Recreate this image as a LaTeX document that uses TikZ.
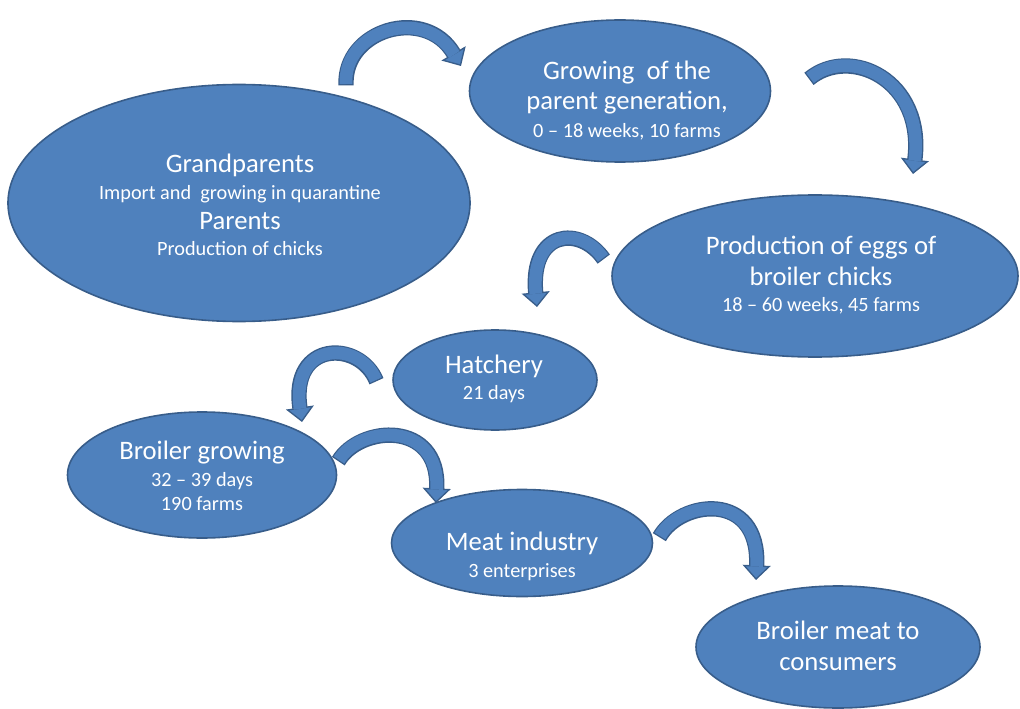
\documentclass[tikz,border=0pt]{standalone}
\usepackage{fontspec}
\setmainfont{Carlito}
\usetikzlibrary{shapes.geometric,arrows.meta}
\definecolor{bfill}{HTML}{4F81BD}
\definecolor{bline}{HTML}{385D8A}
\newcommand{\bentarrow}[4]{%
  \draw[bline, line width=11.5pt, shorten <=-1pt,
        -{Triangle[length=11pt,width=21pt,fill=bfill,line width=1pt]}]
        (#1) .. controls #2 and #3 .. (#4);
  \draw[bfill, line width=9.5pt, shorten >=10pt]
        (#1) .. controls #2 and #3 .. (#4);}
\begin{document}
\begin{tikzpicture}[x=0.75pt,y=-0.75pt,
  blob/.style={ellipse, fill=bfill, draw=bline, line width=1.2pt, inner sep=0pt},
  big/.style={text=white, font=\fontsize{20}{24}\selectfont, anchor=base, inner sep=0pt},
  small/.style={text=white, font=\fontsize{15.2}{18}\selectfont, anchor=base, inner sep=0pt}]
\useasboundingbox (0,0) rectangle (1020,709);

% ellipses
\node[blob, minimum width=346.5pt, minimum height=177.75pt] (gp) at (239,203) {};
\node[blob, minimum width=225.75pt, minimum height=106.5pt] (gr) at (620,91) {};
\node[blob, minimum width=304.5pt, minimum height=121.5pt] (pe) at (815,276) {};
\node[blob, minimum width=153pt, minimum height=75pt] (ha) at (495,380) {};
\node[blob, minimum width=201.75pt, minimum height=94.5pt] (bg) at (202,475) {};
\node[blob, minimum width=195.75pt, minimum height=80.25pt] (mi) at (522,543) {};
\node[blob, minimum width=213pt, minimum height=91.5pt] (bm) at (838,647) {};

% texts
\node[big]   (gp1) at (240,173) {Grandparents};
\node[small] (gp2) at (240,200) {Import and\ \ growing in quarantine};
\node[big]   (gp3) at (240,230) {Parents};
\node[small] (gp4) at (240,256) {Production of chicks};

\node[big]   (gr1) at (627,80) {Growing\ \ of the};
\node[big]   (gr2) at (627,110) {parent generation,};
\node[small] (gr3) at (627,138) {0 – 18 weeks, 10 farms};

\node[big]   (pe1) at (821,254) {Production of eggs of};
\node[big]   (pe2) at (821,285) {broiler chicks};
\node[small] (pe3) at (821,311) {18 – 60 weeks, 45 farms};

\node[big]   (ha1) at (494,373) {Hatchery};
\node[small] (ha2) at (494,399) {21 days};

\node[big]   (bg1) at (202,459) {Broiler growing};
\node[small] (bg2) at (202,486) {32 – 39 days};
\node[small] (bg3) at (202,510) {190 farms};

\node[big]   (mi1) at (522,550) {Meat industry};
\node[small] (mi2) at (522,577) {3 enterprises};

\node[big]   (bm1) at (838,639) {Broiler meat to};
\node[big]   (bm2) at (838,670) {consumers};

% curved block arrows
\coordinate (a1s) at (346,84);  \coordinate (a1e) at (461,66);
\coordinate (a2s) at (810,78);  \coordinate (a2e) at (913,174);
\coordinate (a3s) at (603,258); \coordinate (a3e) at (537,307);
\coordinate (a4s) at (376,380); \coordinate (a4e) at (302,422);
\coordinate (a5s) at (339,460); \coordinate (a5e) at (436,503);
\coordinate (a6s) at (660,536); \coordinate (a6e) at (756,580);
\bentarrow{a1s}{(343,30)}{(425,5)}{a1e}
\bentarrow{a2s}{(850,45)}{(925,80)}{a2e}
\bentarrow{a3s}{(580,225)}{(530,230)}{a3e}
\bentarrow{a4s}{(360,340)}{(290,340)}{a4e}
\bentarrow{a5s}{(360,425)}{(440,420)}{a5e}
\bentarrow{a6s}{(680,500)}{(760,490)}{a6e}
\end{tikzpicture}
\end{document}
